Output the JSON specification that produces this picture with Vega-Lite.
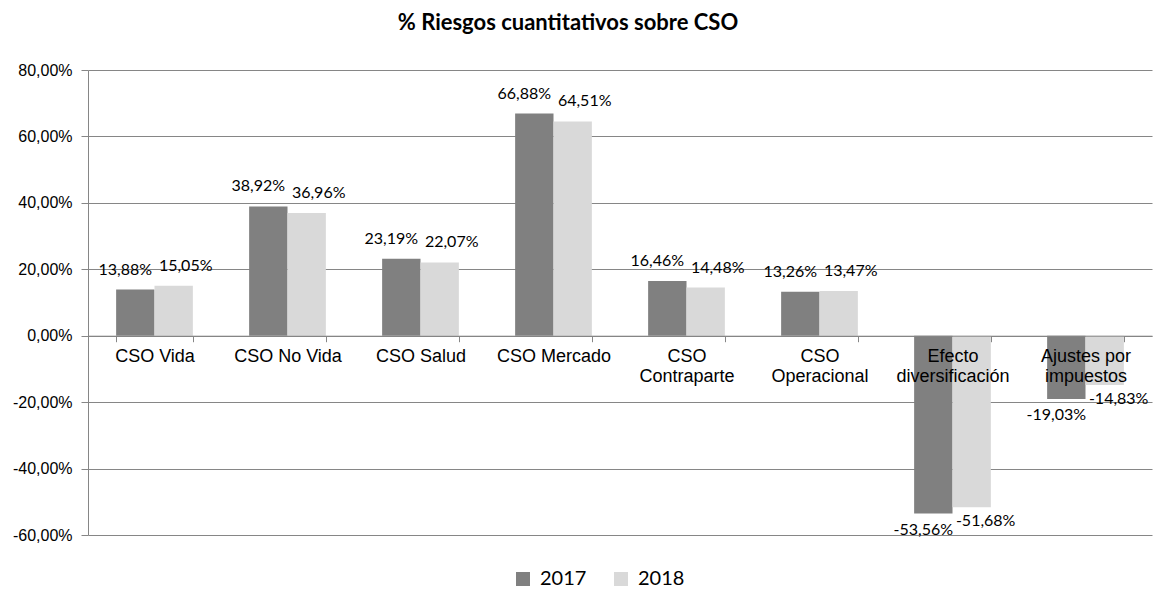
{
  "$schema": "https://vega.github.io/schema/vega-lite/v6.json",
  "width": 1064,
  "height": 465,
  "autosize": "none",
  "padding": {"left": 88, "top": 70, "right": 4, "bottom": 55},
  "config": {
    "locale": {"number": {"decimal": ",", "thousands": ".", "grouping": [3], "currency": ["", " €"], "minus": "-"}},
    "view": {"stroke": null},
    "font": "Lato"
  },
  "title": {
    "text": "% Riesgos cuantitativos sobre CSO",
    "font": "Lato",
    "fontSize": 22,
    "fontWeight": "bold",
    "color": "#000000",
    "anchor": "middle",
    "dx": -52,
    "offset": 27
  },
  "data": {
    "values": [
      {"cat": "CSO Vida", "year": "2017", "value": 0.1388},
      {"cat": "CSO Vida", "year": "2018", "value": 0.1505},
      {"cat": "CSO No Vida", "year": "2017", "value": 0.3892},
      {"cat": "CSO No Vida", "year": "2018", "value": 0.3696},
      {"cat": "CSO Salud", "year": "2017", "value": 0.2319},
      {"cat": "CSO Salud", "year": "2018", "value": 0.2207},
      {"cat": "CSO Mercado", "year": "2017", "value": 0.6688},
      {"cat": "CSO Mercado", "year": "2018", "value": 0.6451},
      {"cat": "CSO|Contraparte", "year": "2017", "value": 0.1646},
      {"cat": "CSO|Contraparte", "year": "2018", "value": 0.1448},
      {"cat": "CSO|Operacional", "year": "2017", "value": 0.1326},
      {"cat": "CSO|Operacional", "year": "2018", "value": 0.1347},
      {"cat": "Efecto|diversificación", "year": "2017", "value": -0.5356},
      {"cat": "Efecto|diversificación", "year": "2018", "value": -0.5168},
      {"cat": "Ajustes por|impuestos", "year": "2017", "value": -0.1903},
      {"cat": "Ajustes por|impuestos", "year": "2018", "value": -0.1483}
    ]
  },
  "encoding": {
    "x": {
      "field": "cat",
      "type": "nominal",
      "sort": null,
      "scale": {"paddingInner": 0.423, "paddingOuter": 0.2115},
      "axis": {
        "orient": "bottom",
        "offset": -199.29,
        "title": null,
        "labelAngle": 0,
        "tickBand": "extent",
        "domainColor": "#868686",
        "tickColor": "#868686",
        "tickSize": 6,
        "labelPadding": 6,
        "labelFont": "Liberation Sans",
        "labelFontSize": 18,
        "labelColor": "#000000",
        "labelExpr": "split(datum.label, '|')",
        "labelLineHeight": 20,
        "labelOverlap": false,
        "labelBound": false,
        "labelLimit": 0,
        "grid": false,
        "zindex": 1
      }
    },
    "xOffset": {"field": "year", "type": "nominal", "scale": {"paddingInner": 0, "paddingOuter": 0}},
    "y": {
      "field": "value",
      "type": "quantitative",
      "scale": {"domain": [-0.6, 0.8]},
      "axis": {
        "values": [-0.6, -0.4, -0.2, 0, 0.2, 0.4, 0.6, 0.8],
        "format": ".2%",
        "title": null,
        "labelFont": "Liberation Sans",
        "labelFontSize": 16,
        "labelColor": "#000000",
        "domainColor": "#868686",
        "tickColor": "#868686",
        "tickSize": 7,
        "labelPadding": 9,
        "grid": true,
        "gridColor": "#868686",
        "gridOpacity": 1,
        "zindex": 0
      }
    }
  },
  "layer": [
    {
      "mark": {"type": "bar"},
      "encoding": {
        "color": {
          "field": "year",
          "type": "nominal",
          "scale": {"domain": ["2017", "2018"], "range": ["#808080", "#d9d9d9"]},
          "legend": {
            "title": null,
            "orient": "none",
            "direction": "horizontal",
            "legendX": 425,
            "legendY": 499,
            "symbolType": "square",
            "symbolSize": 196,
            "symbolStrokeWidth": 0,
            "labelFont": "Lato",
            "labelFontSize": 20,
            "labelColor": "#000000",
            "labelOffset": 7,
            "columnPadding": 24
          }
        }
      }
    },
    {
      "transform": [{"filter": "datum.year == '2017' && datum.value >= 0"}],
      "mark": {"type": "text", "font": "Lato", "fontSize": 16, "color": "#000000", "baseline": "middle", "dy": -20, "dx": -10},
      "encoding": {"text": {"field": "value", "type": "quantitative", "format": ".2%"}}
    },
    {
      "transform": [{"filter": "datum.year == '2018' && datum.value >= 0"}],
      "mark": {"type": "text", "font": "Lato", "fontSize": 16, "color": "#000000", "baseline": "middle", "dy": -20, "dx": 12},
      "encoding": {"text": {"field": "value", "type": "quantitative", "format": ".2%"}}
    },
    {
      "transform": [{"filter": "datum.year == '2017' && datum.value < 0"}],
      "mark": {"type": "text", "font": "Lato", "fontSize": 16, "color": "#000000", "baseline": "middle", "dy": 16, "dx": -10},
      "encoding": {"text": {"field": "value", "type": "quantitative", "format": ".2%"}}
    },
    {
      "transform": [{"filter": "datum.year == '2018' && datum.value < 0"}],
      "mark": {"type": "text", "font": "Lato", "fontSize": 16, "color": "#000000", "baseline": "middle", "dy": 14, "dx": 14},
      "encoding": {"text": {"field": "value", "type": "quantitative", "format": ".2%"}}
    }
  ]
}
